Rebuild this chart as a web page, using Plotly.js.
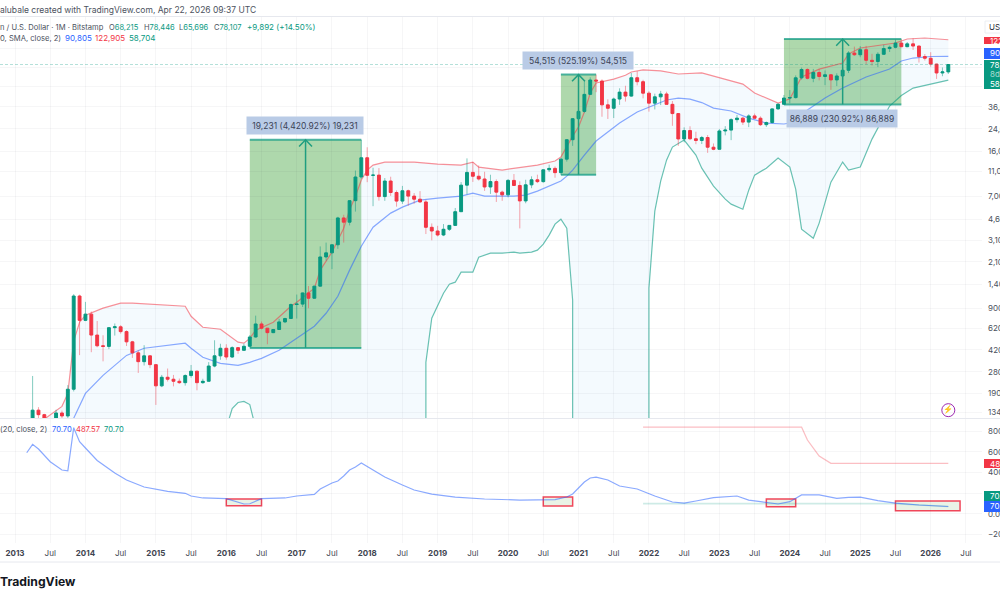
<!DOCTYPE html>
<html>
<head>
<meta charset="utf-8">
<script src="https://cdn.plot.ly/plotly-3.0.1.min.js"></script>
<style>html,body{margin:0;padding:0;background:#fff;overflow:hidden}#chart{width:1000px;height:600px}</style>
</head>
<body>
<div id="chart"></div>
<script>
// Month index: 0 = Jan 2013, one step per month.
const firstCandleIndex = 3;
const open = [93,139,128,97,106,132,125,204,1125,720,807,550,452,447,630,640,586,486,397,338,376,320,217,254,245,236,230,262,284,230,236,312,376,432,368,437,416,448,531,674,624,575,609,700,745,963,970,1190,1080,1348,2300,2480,2875,4700,4350,6450,9950,14156,10265,10300,6950,9240,7490,6400,7730,7010,6625,6300,3960,3700,3440,3820,4100,5270,8570,10820,10090,9590,8290,9150,7540,7180,9350,8520,6420,8620,9450,9140,11350,11650,10780,13800,19700,28950,33100,45200,58800,57700,37300,35050,41500,47100,43800,61300,57000,46200,38500,43200,45500,37650,31800,19980,23300,20050,19430,20500,17170,16530,23130,23500,28450,29250,27200,30450,29200,25950,27000,34650,37700,42250,42600,61200,71300,60700,67500,62700,64700,58900,63300,70300,96400,93400,102400,84350,82550,94200,104600,107100,115700,108200,114000,109500,90400,87600,78700,66900,68215];
const high = [260,147,130,111,140,138,220,1163,1153,1010,847,712,548,635,680,660,600,495,415,457,380,320,265,298,265,248,268,318,286,247,335,500,469,465,448,440,470,550,785,705,625,615,740,755,980,1155,1200,1350,1350,2790,2990,2900,4800,4980,6470,11200,19666,17150,11790,11700,9760,10000,7780,8450,7900,7410,7680,6570,4250,4070,4200,4100,5640,9060,14000,13100,12300,10950,10370,9520,7750,9580,10500,9190,9460,10070,10380,11440,12480,12070,14100,19900,29300,41950,58350,61780,64895,59500,41300,42600,50500,52900,66900,69000,59000,47900,45800,48200,47450,40000,31950,24700,25200,22800,21100,21480,18390,23950,25250,29200,31000,29800,31400,31800,30200,27500,35000,38450,44700,48900,64000,73800,72800,72000,71900,70000,65600,66500,73600,99800,108400,109400,109800,95000,97900,112000,110400,123200,124516,117900,126200,110600,94600,97900,79300,74000,78446];
const low = [50,85,88,65,100,118,100,196,381,710,402,440,340,425,545,565,450,362,275,315,300,153,212,235,215,225,218,252,200,225,236,305,350,350,362,390,415,440,525,610,465,570,605,685,745,745,920,900,1070,1340,2150,1840,2670,2995,4100,5280,9600,9050,5830,6450,6430,7040,5780,6080,5880,6100,6200,3500,3120,3350,3370,3700,4080,5270,7240,9100,9320,7710,7300,6300,6430,6850,8440,3880,6150,8110,8900,8970,10900,9820,10370,13200,17600,27700,32300,44950,47050,30000,28800,29300,37300,39600,43300,53300,42000,32950,34300,37150,37600,25400,17600,18800,19550,18150,18200,15480,16260,16500,21350,19550,26950,25800,24800,28900,25350,24900,26550,34100,37600,38500,41900,59300,59600,56500,58400,53500,49100,52600,58900,66800,91400,89300,78300,76700,74500,93300,98200,105100,107300,107300,102000,81000,84000,75000,60000,63000,65696];
const close = [139,128,97,106,132,125,204,1125,720,807,550,452,447,630,640,586,486,397,338,376,320,217,254,245,236,230,262,284,230,236,312,376,432,368,437,416,448,531,674,624,575,609,700,745,963,970,1190,1080,1348,2300,2480,2875,4700,4350,6450,9950,14156,10265,10300,6950,9240,7490,6400,7730,7010,6625,6300,3960,3700,3440,3820,4100,5270,8570,10820,10090,9590,8290,9150,7540,7180,9350,8520,6420,8620,9450,9140,11350,11650,10780,13800,19700,28950,33100,45200,58800,57700,37300,35050,41500,47100,43800,61300,57000,46200,38500,43200,45500,37650,31800,19980,23300,20050,19430,20500,17170,16530,23130,23500,28450,29250,27200,30450,29200,25950,27000,34650,37700,42250,42600,61200,71300,60700,67500,62700,64700,58900,63300,70300,96400,93400,102400,84350,82550,94200,104600,107100,115700,108200,114000,109500,90400,87600,78700,66900,68215,78107];

const upperX = [5,8,9,10,11,12,15,18,20,29,30,32,35,38,39,40,41,44,47,48,51,52,54,55,56,57,58,59,60,61,63,68,72,76,78,79,83,89,92,93,94,95,96,97,98,99,102,104,105,107,110,113,117,119,122,124,126,128,130,131,132,133,134,137,141,142,144,150,152,155,159];
const upperY = [118,149,189,492,696,790,900,986,986,933,776,635,612,483,474,518,601,696,933,1004,1297,1807,2512,3132,3896,5428,7009,9408,11283,12370,13080,13080,12600,12380,13080,11930,11300,12380,13330,14330,17530,21050,24830,32700,46320,55650,59820,64100,68080,70800,69500,65650,66900,63200,58400,54530,46320,42230,38560,40030,41700,50730,62100,71800,80300,94650,105700,115800,124600,126900,122905];
const middleX = [10,12,15,19,22,29,30,32,35,38,40,42,45,47,51,53,55,57,59,61,64,66,69,72,76,78,80,85,87,89,91,93,94,95,97,99,101,103,106,108,111,113,115,117,119,122,125,128,131,133,135,138,141,145,149,151,153,156,159];
const middleY = [120,189,263,379,432,474,432,366,328,316,334,359,416,483,647,820,1120,1807,2803,3970,5134,5729,6515,6753,7009,7407,7009,7009,7140,7688,8419,9235,10118,11300,14860,19230,22660,26730,32700,35830,40770,42230,41440,38900,35150,33320,29270,26730,26270,27220,33950,42230,50730,62100,71850,83340,87950,90450,90805];
const lowerX = [5,36,37,38,39,40,41,70,70,71,73,74,75,76,78,79,81,83,85,86,88,89,90,91,92,93,94,95,95,108,108,109,110,111,112,114,116,117,119,121,122,124,125,126,128,130,132,133,134,136,137,139,141,142,144,146,149,151,153,155,157,158,159];
const lowerY = [100,100,143,160,163,154,100,100,334,748,1184,1397,1449,1740,1740,2291,2466,2466,2512,2466,2512,2606,2907,3430,4195,4594,3896,1042,100,100,1300,5329,9235,13550,17210,19590,14860,11700,8419,6628,6050,5518,7819,10300,11700,14060,11930,7960,3824,3244,4275,9060,13080,11280,11930,19910,36490,44300,50730,53130,55650,56690,58704];

// Measured moves: start month, end month, start price, end price
const moveStart = [40,93,131];
const moveEnd = [59,99,151];
const moveLow = [435,10380,37627];
const moveHigh = [19666,64895,124516];
const moveLabels = ['19,231 (4,420.92%) 19,231','54,515 (525.19%) 54,515','86,889 (230.92%) 86,889'];

// Lower indicator
const bbwX = [2,3,4,6,8,9,10,11,12,14,17,19,22,24,26,29,30,32,36,39,40,42,46,48,51,52,54,55,56,57,58,59,61,63,66,68,71,75,80,86,92,94,95,96,97,98,99,101,103,106,109,112,114,116,119,123,125,127,130,132,134,137,140,142,144,147,150,154,159];
const bbwY = [590,671,626,503,423,416,832,697,636,515,394,327,259,240,217,198,172,153,146,95,97,146,153,172,188,240,298,317,365,423,452,491,423,355,278,230,191,162,143,133,138,162,191,249,307,346,355,327,269,240,172,114,104,124,157,172,133,117,95,117,182,182,150,159,162,127,104,85,70.7];
const bbwUpperX = [107,134,135,137,139,159];
const bbwUpperY = [838,838,713,558,488,487.57];
const bbwLowerX = [107,150,154,159];
const bbwLowerY = [98,98,85,70.7];
// Boxes on the lower pane: start month, end month, bottom, top
const boxStart = [36,90,128,150];
const boxEnd = [42,95,133,161];
const boxBottom = [78,75,69,30];
const boxTop = [143,162,143,124];

const yearTicks = [0,6,12,18,24,30,36,42,48,54,60,66,72,78,84,90,96,102,108,114,120,126,132,138,144,150,156,162];
const yearLabels = ['<b>2013</b>','Jul','<b>2014</b>','Jul','<b>2015</b>','Jul','<b>2016</b>','Jul','<b>2017</b>','Jul','<b>2018</b>','Jul','<b>2019</b>','Jul','<b>2020</b>','Jul','<b>2021</b>','Jul','<b>2022</b>','Jul','<b>2023</b>','Jul','<b>2024</b>','Jul','<b>2025</b>','Jul','<b>2026</b>','Jul'];
const priceTicks = [105000,74000,52000,36000,24000,16000,11000,7000,4600,3100,2100,1400,900,620,420,280,190,134];
const priceLabels = ['','','','36,000.00','24,000.00','16,000.00','11,000.00','7,000.00','4,600.00','3,100.00','2,100.00','1,400.00','900.00','620.00','420.00','280.00','190.00','134.00'];
const indicatorTicks = [800,600,400,200,0,-200];
const indicatorLabels = ['800.00','600.00','400.00','','0.00','\u2212200.00'];
const lastClose = 78107;

const UP = '#089981', DOWN = '#f23645', BLUE = '#2962ff', TEAL = '#1f9e80', GRID = 'rgba(40,50,80,0.045)', TXT = '#4c525e';
const FONT = 'Inter, "Noto Sans", sans-serif';
const PX = x => x / 1000, PY = y => 1 - y / 600;
const XRANGE = [-2.555, 164.74];

const idx = open.map((_, i) => firstCandleIndex + i);
const wicks = (keep) => {
  const x = [], y = [];
  idx.forEach((m, i) => {
    if (!keep(i)) return;
    const top = Math.max(open[i], close[i]), bot = Math.min(open[i], close[i]);
    x.push(m, m, null, m, m, null);
    y.push(high[i], top, null, bot, low[i], null);
  });
  return {x, y};
};
const isUp = i => close[i] >= open[i];
const upW = wicks(isUp), dnW = wicks(i => !isUp(i));

const traces = [];
// Bands on the base axis
traces.push({type:'scatter', mode:'lines', x:upperX.concat(lowerX.slice().reverse()), y:upperY.concat(lowerY.slice().reverse()), fill:'toself', fillcolor:'rgba(33,150,243,0.05)', line:{width:0}, yaxis:'y', xaxis:'x', hoverinfo:'skip'});
traces.push({type:'scatter', mode:'lines', x:upperX, y:upperY, line:{color:'rgba(242,54,69,0.55)', width:1.2}, yaxis:'y', xaxis:'x'});
traces.push({type:'scatter', mode:'lines', x:middleX, y:middleY, line:{color:'rgba(41,98,255,0.55)', width:1.2}, yaxis:'y', xaxis:'x'});
traces.push({type:'scatter', mode:'lines', x:lowerX, y:lowerY, line:{color:'rgba(8,153,129,0.6)', width:1.2}, yaxis:'y', xaxis:'x'});
// Candles on the overlay axis
traces.push({type:'candlestick', x:idx, open:open, close:close,
  high:open.map((o,i)=>Math.max(o,close[i])), low:open.map((o,i)=>Math.min(o,close[i])),
  increasing:{line:{color:UP,width:1},fillcolor:UP}, decreasing:{line:{color:DOWN,width:1},fillcolor:DOWN},
  whiskerwidth:0, yaxis:'y3', xaxis:'x', hoverinfo:'skip'});
traces.push({type:'scatter', mode:'lines', x:upW.x, y:upW.y, connectgaps:false, line:{color:'rgba(8,153,129,0.5)', width:1}, yaxis:'y3', xaxis:'x'});
traces.push({type:'scatter', mode:'lines', x:dnW.x, y:dnW.y, connectgaps:false, line:{color:'rgba(242,54,69,0.45)', width:1}, yaxis:'y3', xaxis:'x'});
// Close line
traces.push({type:'scatter', mode:'lines', x:XRANGE, y:[lastClose,lastClose], line:{color:'rgba(8,153,129,0.3)', width:1, dash:'3px,2px'}, yaxis:'y3', xaxis:'x'});
// Measured moves: edges and arrows
moveStart.forEach((s,i) => {
  const e = moveEnd[i], mid = (s+e)/2, lo = moveLow[i], hi = moveHigh[i];
  [lo,hi].forEach(p => traces.push({type:'scatter', mode:'lines', x:[s,e], y:[p,p], line:{color:'rgba(8,153,129,0.7)', width:2}, yaxis:'y3', xaxis:'x'}));
  traces.push({type:'scatter', mode:'lines', x:[mid,mid], y:[lo,hi], line:{color:TEAL, width:1.5}, yaxis:'y3', xaxis:'x'});
  traces.push({type:'scatter', mode:'lines', x:[mid-1.1,mid,mid+1.1], y:[hi*0.885,hi,hi*0.885], line:{color:TEAL, width:1.5}, yaxis:'y3', xaxis:'x'});
});
// Status icon
traces.push({type:'scatter', mode:'markers+text', x:[159], y:[139], text:['\u26A1'], textposition:'middle center', textfont:{size:8,color:'#9c27b0'}, marker:{symbol:'circle-open',size:13,color:'#9c27b0',line:{width:1,color:'#9c27b0'}}, yaxis:'y3', xaxis:'x'});
// Lower pane
traces.push({type:'scatter', mode:'lines', x:bbwUpperX, y:bbwUpperY, line:{color:'rgba(242,54,69,0.32)', width:1.3}, yaxis:'y2', xaxis:'x'});
traces.push({type:'scatter', mode:'lines', x:bbwLowerX, y:bbwLowerY, line:{color:'rgba(8,153,129,0.2)', width:1.6}, yaxis:'y2', xaxis:'x'});
traces.push({type:'scatter', mode:'lines', x:bbwX, y:bbwY, line:{color:'rgba(41,98,255,0.55)', width:1.2}, yaxis:'y2', xaxis:'x'});

const shapes = [];
moveStart.forEach((s,i) => shapes.push({type:'rect', layer:'below', xref:'x', yref:'y', x0:s, x1:moveEnd[i], y0:moveLow[i], y1:moveHigh[i], fillcolor:'#aed8ac', line:{width:0}}));
boxStart.forEach((s,i) => shapes.push({type:'rect', layer:'below', xref:'x', yref:'y2', x0:s, x1:boxEnd[i], y0:boxBottom[i], y1:boxTop[i], fillcolor:'#e9f3e6', line:{color:'#f0475a', width:1.5}}));
const hline = y => ({type:'line', xref:'paper', yref:'paper', x0:0, x1:1, y0:PY(y), y1:PY(y), line:{color:'#e6e8ee', width:1}});
shapes.push(hline(16.5), hline(418.5), hline(562));
const tag = (y0,y1,color) => ({type:'rect', xref:'paper', yref:'paper', x0:PX(984), x1:1.01, y0:PY(y0), y1:PY(y1), fillcolor:color, line:{width:0}});
shapes.push(tag(37,44,DOWN), tag(48,59,BLUE), tag(60,89,UP), tag(459,468,DOWN), tag(491,501,UP), tag(501,512,BLUE));
shapes.push({type:'rect', xref:'paper', yref:'paper', x0:PX(985), x1:1.01, y0:PY(21), y1:PY(33), fillcolor:'#ffffff', line:{color:'#eceef2', width:1}});

const anno = (x,y,text,opts={}) => Object.assign({xref:'paper', yref:'paper', x:PX(x), y:PY(y), text, showarrow:false, xanchor:'left', yanchor:'middle', align:'left', borderpad:0, font:{family:FONT, size:8, color:TXT}}, opts);
const col = (c,s=8) => ({font:{family:FONT,size:s,color:c}});
const g = s => `<span style="color:${UP}">${s}</span>`;
const annotations = [
  anno(-1,10,'alubale created with TradingView.com, Apr 22, 2026 09:37 UTC',col(TXT,8.5)),
  anno(-1,27,'n / U.S. Dollar · 1M · Bitstamp',col(TXT,7.6)),
  anno(108,27,'O'+g('68,215'),col(TXT,7.5)), anno(143,27,'H'+g('78,446'),col(TXT,7.5)), anno(178,27,'L'+g('65,696'),col(TXT,7.5)), anno(213,27,'C'+g('78,107'),col(TXT,7.5)),
  anno(246,27,'+9,892 (+14.50%)',col(UP,8)),
  anno(-1,38,'0, SMA, close, 2)',col(TXT,7.6)),
  anno(64,38,'90,805',col(BLUE)), anno(94,38,'122,905',col(DOWN)), anno(128,38,'58,704',col(UP)),
  anno(-1,429,'(20, close, 2)',col(TXT,7.6)),
  anno(51,429,'70.70',col(BLUE,7.6)), anno(75,429,'487.57',col(DOWN,7.6)), anno(103,429,'70.70',col(UP,7.6)),
  anno(-1,581,'<b>TradingView</b>',col('#131722',12.2)),
  anno(987.5,27,'USD',col('#2a2e39')),
  anno(988.5,40.5,'122,905.00',col('#fff')),
  anno(988.5,53.5,'90,805.00',col('#fff')),
  anno(988.5,64.5,'78,107.00',col('#fff')),
  anno(988.5,74,'8d 14h',col('rgba(255,255,255,0.65)')),
  anno(988.5,83.5,'58,704.00',col('#fff')),
  anno(988.5,463.5,'487.57',col('#fff')),
  anno(988.5,496,'70.70',col('#fff')),
  anno(988.5,506,'70.70',col('#fff'))
];
const pillBoxes = [[305,125.5,114],[578,60.5,108],[842,118.7,108]];
moveLabels.forEach((t,i) => annotations.push({xref:'paper', yref:'paper', x:PX(pillBoxes[i][0]), y:PY(pillBoxes[i][1]), text:t, showarrow:false, xanchor:'center', yanchor:'middle', width:pillBoxes[i][2], height:15, bgcolor:'#b9cbe6', font:{family:FONT,size:8.5,color:'#3c4356'}}));

const priceRange = [2.0807, 5.2706];
const layout = {
  width:1000, height:600, margin:{l:0,r:0,t:0,b:0}, showlegend:false, paper_bgcolor:'#fff', plot_bgcolor:'#fff',
  boxgap:0.3, boxmode:'overlay', hovermode:false,
  xaxis:{domain:[0,0.982], range:XRANGE, anchor:'y2', tickmode:'array', tickvals:yearTicks, ticktext:yearLabels, tickfont:{family:FONT,size:8,color:'#3e4450'}, ticks:'', showgrid:true, gridcolor:GRID, gridwidth:1, zeroline:false, showline:false, rangeslider:{visible:false}, ticklabelstandoff:4},
  yaxis:{type:'log', domain:[PY(418),PY(17)], range:priceRange, side:'right', anchor:'x', tickmode:'array', tickvals:priceTicks, ticktext:priceLabels, tickfont:{family:FONT,size:8,color:TXT}, ticks:'', gridcolor:GRID, gridwidth:1, zeroline:false, showline:false, ticklabelstandoff:5},
  yaxis3:{type:'log', overlaying:'y', range:priceRange, side:'right', anchor:'x', visible:false, showgrid:false},
  yaxis2:{domain:[PY(543),PY(419)], range:[-282,916], side:'right', anchor:'x', tickmode:'array', tickvals:indicatorTicks, ticktext:indicatorLabels, tickfont:{family:FONT,size:8,color:TXT}, ticks:'', gridcolor:GRID, gridwidth:1, zeroline:false, showline:false, ticklabelstandoff:5},
  shapes, annotations
};
Plotly.newPlot('chart', traces, layout, {displayModeBar:false, responsive:false});
</script>
</body>
</html>
